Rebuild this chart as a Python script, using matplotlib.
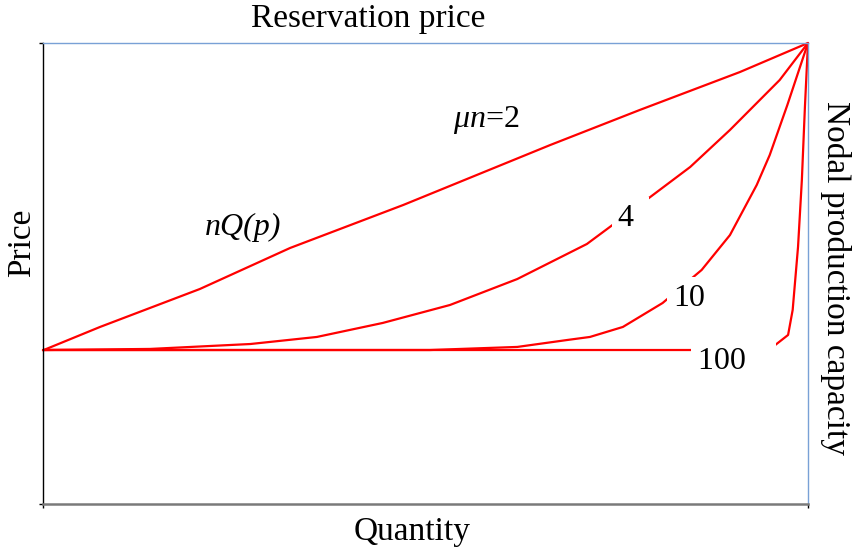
import matplotlib.pyplot as plt

# fonts: Times-like look of the original slide
plt.rcParams['font.family'] = ['Liberation Serif', 'DejaVu Serif']
plt.rcParams['mathtext.fontset'] = 'custom'
plt.rcParams['mathtext.it'] = 'Liberation Serif:italic'
plt.rcParams['mathtext.rm'] = 'Liberation Serif'

# Data (quantity 0..10, price 0..3)
q_mu2 = [0, 0.745, 2.05, 3.23, 4.71, 6.63, 7.80, 9.11, 10]
p_mu2 = [1.0, 1.152, 1.399, 1.666, 1.946, 2.336, 2.564, 2.811, 3.0]

q_mu4 = [0, 1.40, 2.71, 3.58, 4.44, 5.32, 6.20, 7.11, 7.92, 8.46, 8.98, 9.33,
         9.63, 10]
p_mu4 = [1.002, 1.009, 1.041, 1.087, 1.178, 1.295, 1.464, 1.692, 1.991, 2.193,
         2.434, 2.609, 2.759, 3.0]

q_mu10 = [0, 5.06, 6.20, 6.85, 7.15, 7.58, 8.10, 8.61, 8.98, 9.33, 9.50, 9.73, 10]
p_mu10 = [1.002, 1.002, 1.022, 1.067, 1.087, 1.152, 1.308, 1.523, 1.750, 2.076,
          2.271, 2.596, 3.0]

q_mu100 = [0, 8.46, 9.37, 9.54, 9.74, 9.80, 9.87, 9.92, 9.96, 10]
p_mu100 = [1.002, 1.002, 1.002, 1.022, 1.100, 1.263, 1.673, 2.108, 2.583, 3.0]

curves = [(q_mu2, p_mu2), (q_mu4, p_mu4), (q_mu10, p_mu10), (q_mu100, p_mu100)]

# curve labels: text, left x, centre y (trailing spaces widen the white gap)
curve_labels = [('4 ', 7.52, 1.86), ('10', 8.24, 1.34), ('100   ', 8.56, 0.93)]

fig = plt.figure(figsize=(8.55, 5.52), dpi=100)
ax = fig.add_axes([0.0503, 0.087, 0.8947, 0.8351])

for q, p in curves:
    ax.plot(q, p, color='red', lw=1.6, clip_on=False, solid_capstyle='round')

box = dict(boxstyle='square,pad=0.2', fc='white', ec='none')
for txt, x, y in curve_labels:
    ax.text(x, y, txt, fontsize=23, ha='left', va='center', bbox=box)

ax.text(5.80, 2.50, r'$\mu n$=2', fontsize=23, ha='center', va='center')
ax.text(2.61, 1.80, 'nQ(p)', fontsize=23, fontstyle='italic', ha='center', va='center')

ax.set_xlim(0, 10)
ax.set_ylim(0, 3)
ax.set_xticks([0, 10])
ax.set_yticks([0, 3])
ax.set_xticklabels([])
ax.set_yticklabels([])
ax.tick_params(direction='out', length=3, width=1, colors='black')

ax.spines['left'].set_color('black')
ax.spines['left'].set_linewidth(1.0)
ax.spines['bottom'].set_color('#7a7a7a')
ax.spines['bottom'].set_linewidth(1.8)
ax.spines['top'].set_color('#79a1d6')
ax.spines['top'].set_linewidth(1.0)
ax.spines['right'].set_color('#79a1d6')
ax.spines['right'].set_linewidth(1.0)

W, H = 855.0, 552.0
fig.text(368 / W, 1 - 27 / H, 'Reservation price', fontsize=24, ha='center', va='baseline')
fig.text(412 / W, 1 - 540 / H, 'Quantity', fontsize=24, ha='center', va='baseline')
fig.text(22 / W, 1 - 243 / H, 'Price', fontsize=24, rotation=90, ha='center', va='center')
fig.text(835 / W, 1 - 278 / H, 'Nodal production capacity', fontsize=24,
         rotation=270, ha='center', va='center')

fig.savefig('out.png', dpi=100)
